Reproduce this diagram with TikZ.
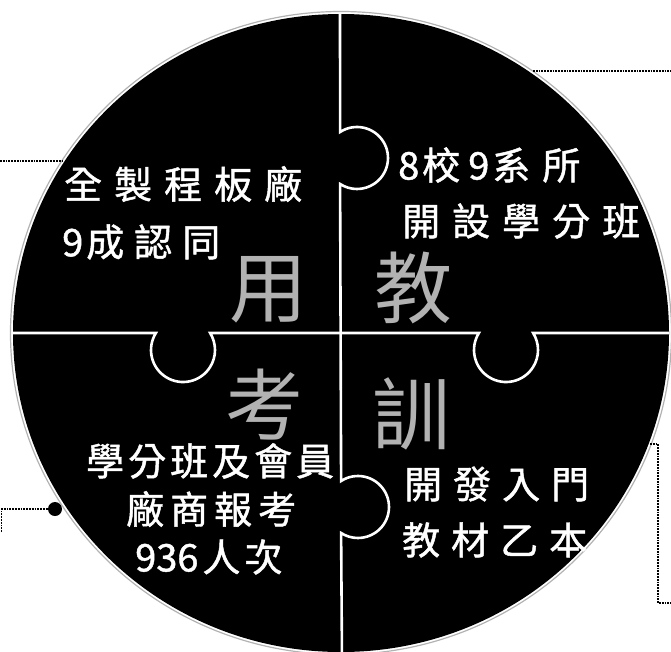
\documentclass[tikz,border=0pt]{standalone}
\usepackage{fontspec}
\newfontfamily\cjk{Noto Sans CJK TC}
\newfontfamily\cjkb[FakeBold=1.2]{Noto Sans CJK TC}
\newcommand\gp[1]{\kern#1pt\relax}
\begin{document}
\begin{tikzpicture}[x=1pt,y=-1pt,
  puz/.style={white,line width=2.6pt},
  conn/.style={black,densely dotted,line width=1.8pt},
  lbl/.style={white,inner sep=0pt,anchor=west,font=\cjkb\fontsize{38}{44}\selectfont},
  big/.style={gray!60,inner sep=0pt,font=\cjk\fontsize{78}{80}\selectfont}]
\useasboundingbox (0,0) rectangle (671,651);
% disc
\fill[black] (341,333) ellipse [x radius=328, y radius=319];
\draw[gray!60,line width=1.2pt] (341,333) ellipse [x radius=330.5, y radius=321.5];
% puzzle cuts
\begin{scope}
\clip (341,333) ellipse [x radius=328, y radius=319];
\draw[puz] (340,0) -- (340.1,132) arc[start angle=-123,end angle=123,radius=31]
  -- (341.1,481) arc[start angle=-123,end angle=123,radius=31] -- (342,660);
\draw[puz] (0,333) -- (155.9,333) arc[start angle=212.1,end angle=-32.1,radius=32]
  -- (478.9,333) arc[start angle=212.1,end angle=-32.1,radius=32] -- (680,333);
\end{scope}
% big characters
\node[big] (yong) at (268,290) {用};
\node[big] (jiao) at (413,288) {教};
\node[big] (kao) at (264,405) {考};
\node[big] (xun) at (411,414) {訓};
% labels
\node[lbl] (t1) at (64,184) {全\gp{12}製\gp{12}程\gp{12}板\gp{12}廠};
\node[lbl] (t2) at (62,242) {9\gp{3}成\gp{10}認\gp{10}同};
\node[lbl] (t3) at (398,165) {8\gp{3}校\gp{8}9\gp{3}系\gp{12}所};
\node[lbl] (t4) at (402,221) {開\gp{12}設\gp{12}學\gp{12}分\gp{12}班};
\node[lbl] (t5) at (86,461) {學\gp{4}分\gp{4}班\gp{4}及\gp{4}會\gp{4}員};
\node[lbl] (t6) at (126,509) {廠\gp{6}商\gp{6}報\gp{6}考};
\node[lbl] (t7) at (135,557) {936\gp{4}人\gp{4}次};
\node[lbl] (t8) at (404,484) {開\gp{11}發\gp{11}入\gp{11}門};
\node[lbl] (t9) at (402,540) {教\gp{11}材\gp{11}乙\gp{11}本};
% connectors
\coordinate (c1a) at (0,161); \coordinate (c1b) at (64,161);
\draw[conn] (c1a) -- (c1b);
\coordinate (c2a) at (533,71); \coordinate (c2b) at (671,71);
\draw[conn] (c2a) -- (c2b);
\node[circle,fill=black,minimum size=14pt,inner sep=0pt] (dot) at (55,509) {};
\coordinate (c3a) at (1.5,532); \coordinate (c3b) at (1.5,509);
\draw[conn] (c3a) -- (c3b) -- (dot);
\coordinate (r1) at (650,444); \coordinate (r2) at (658,444);
\coordinate (r3) at (658,603); \coordinate (r4) at (671,603);
\draw[conn] (r1) -- (r2) -- (r3) -- (r4);
\end{tikzpicture}
\end{document}
